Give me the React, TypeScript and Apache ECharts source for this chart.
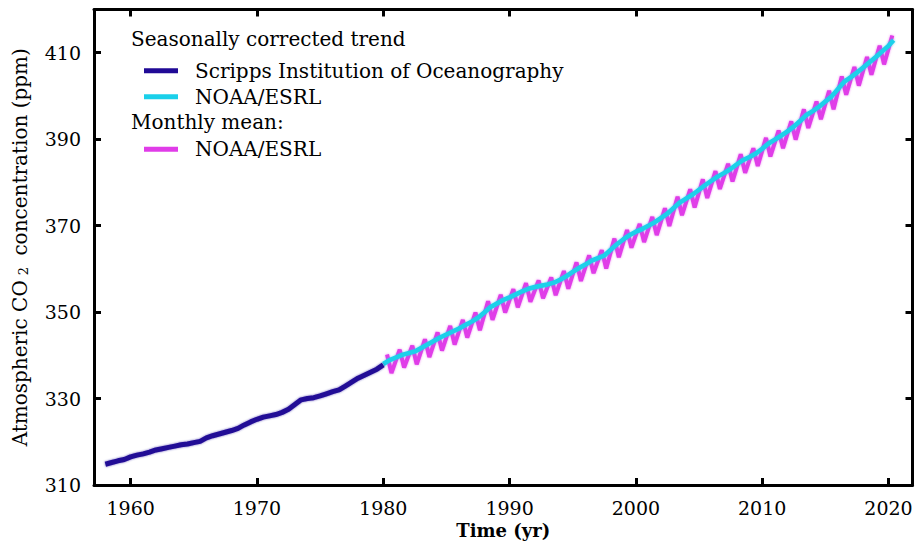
import React, { useEffect, useRef } from 'react';
import * as echarts from 'echarts';

const FONT = '"DejaVu Serif", "Liberation Serif", serif';

const xTicks = [1960, 1970, 1980, 1990, 2000, 2010, 2020];
const yTicks = [310, 330, 350, 370, 390, 410];

// Seasonally corrected trend – Scripps Institution of Oceanography
const scrippsYears = [
  1958.0, 1958.5, 1959.0, 1959.5, 1960.0, 1960.5, 1961.0, 1961.5, 1962.0, 1962.5,
  1963.0, 1963.5, 1964.0, 1964.5, 1965.0, 1965.5, 1966.0, 1966.5, 1967.0, 1967.5,
  1968.0, 1968.5, 1969.0, 1969.5, 1970.0, 1970.5, 1971.0, 1971.5, 1972.0, 1972.5,
  1973.0, 1973.5, 1974.0, 1974.5, 1975.0, 1975.5, 1976.0, 1976.5, 1977.0, 1977.5,
  1978.0, 1978.5, 1979.0, 1979.5, 1980.0,
];
const scrippsTrend = [
  314.8, 315.2, 315.6, 315.9, 316.5, 316.9, 317.2, 317.6, 318.1, 318.4,
  318.7, 319.0, 319.3, 319.5, 319.8, 320.1, 320.9, 321.4, 321.8, 322.2,
  322.6, 323.1, 323.9, 324.6, 325.2, 325.7, 326.0, 326.3, 326.8, 327.5,
  328.6, 329.7, 330.0, 330.2, 330.6, 331.1, 331.6, 332.0, 332.9, 333.8,
  334.7, 335.4, 336.1, 336.8, 337.8,
];

// Seasonally corrected trend – NOAA/ESRL
const noaaYears = [
  1980.0, 1980.5, 1981.0, 1981.5, 1982.0, 1982.5, 1983.0, 1983.5, 1984.0, 1984.5,
  1985.0, 1985.5, 1986.0, 1986.5, 1987.0, 1987.5, 1988.0, 1988.5, 1989.0, 1989.5,
  1990.0, 1990.5, 1991.0, 1991.5, 1992.0, 1992.5, 1993.0, 1993.5, 1994.0, 1994.5,
  1995.0, 1995.5, 1996.0, 1996.5, 1997.0, 1997.5, 1998.0, 1998.5, 1999.0, 1999.5,
  2000.0, 2000.5, 2001.0, 2001.5, 2002.0, 2002.5, 2003.0, 2003.5, 2004.0, 2004.5,
  2005.0, 2005.5, 2006.0, 2006.5, 2007.0, 2007.5, 2008.0, 2008.5, 2009.0, 2009.5,
  2010.0, 2010.5, 2011.0, 2011.5, 2012.0, 2012.5, 2013.0, 2013.5, 2014.0, 2014.5,
  2015.0, 2015.5, 2016.0, 2016.5, 2017.0, 2017.5, 2018.0, 2018.5, 2019.0, 2019.5,
  2020.0, 2020.4,
];
const noaaTrend = [
  338.0, 338.9, 339.5, 340.1, 340.5, 340.9, 341.7, 342.5, 343.3, 344.1,
  344.8, 345.5, 346.2, 347.0, 347.8, 348.7, 349.9, 351.2, 352.0, 352.8,
  353.4, 354.1, 354.8, 355.4, 355.8, 356.1, 356.4, 356.8, 357.5, 358.3,
  359.3, 360.2, 361.0, 361.9, 362.5, 363.1, 364.4, 365.7, 366.8, 367.8,
  368.6, 369.2, 370.0, 370.8, 371.8, 372.8, 374.1, 375.4, 376.3, 377.2,
  378.3, 379.4, 380.4, 381.4, 382.2, 383.1, 384.2, 385.2, 385.9, 386.7,
  387.8, 389.0, 389.9, 390.8, 391.8, 392.9, 394.2, 395.6, 396.5, 397.5,
  398.7, 399.9, 401.6, 403.3, 404.3, 405.4, 406.6, 407.8, 409.0, 410.3,
  411.6, 412.9,
];

// Monthly mean – NOAA/ESRL (seasonal maxima and minima of each year)
const monthlyYears = [
  1980, 1981, 1982, 1983, 1984, 1985, 1986, 1987, 1988, 1989,
  1990, 1991, 1992, 1993, 1994, 1995, 1996, 1997, 1998, 1999,
  2000, 2001, 2002, 2003, 2004, 2005, 2006, 2007, 2008, 2009,
  2010, 2011, 2012, 2013, 2014, 2015, 2016, 2017, 2018, 2019, 2020,
];
const monthlyPeak = [
  340.2, 341.3, 342.2, 343.7, 345.3, 346.8, 348.2, 349.9, 352.5, 354.0,
  355.3, 356.7, 357.3, 358.0, 359.5, 361.5, 363.1, 364.3, 367.0, 369.0,
  370.4, 372.0, 374.0, 376.7, 378.4, 380.7, 382.6, 384.3, 386.5, 387.9,
  390.3, 392.0, 394.1, 396.9, 398.7, 401.2, 404.5, 406.7, 409.0, 411.6, 414.0,
];
const monthlyTrough = [
  335.9, 337.2, 337.9, 339.6, 341.1, 342.5, 344.1, 345.8, 348.2, 349.9,
  351.1, 352.4, 353.2, 353.9, 355.4, 357.2, 359.0, 360.1, 362.7, 364.9,
  366.2, 367.8, 369.9, 372.4, 374.2, 376.4, 378.5, 380.2, 382.2, 383.8,
  386.0, 387.9, 389.9, 392.6, 394.6, 396.9, 400.3, 402.4, 404.9, 407.3,
];

export default function App() {
  const ref = useRef<HTMLDivElement>(null);

  useEffect(() => {
    if (!ref.current) return;
    const chart = echarts.init(ref.current, undefined, { renderer: 'svg' });

    const scrippsData = scrippsYears.map((x, i) => [x, scrippsTrend[i]]);
    const noaaData = noaaYears.map((x, i) => [x, noaaTrend[i]]);
    const monthlyData: number[][] = [];
    monthlyYears.forEach((yr, i) => {
      monthlyData.push([yr + 0.3, monthlyPeak[i]]);
      if (monthlyTrough[i] !== undefined) monthlyData.push([yr + 0.65, monthlyTrough[i]]);
    });

    const axisLine = { show: true, onZero: false, lineStyle: { color: '#000', width: 3 } };
    const labelStyle = { color: '#000', fontFamily: FONT, fontSize: 19, formatter: (v: number) => String(v) };
    const tickStyle = { color: '#000', width: 3 };

    const SCRIPPS = 'Scripps Institution of Oceanography';
    const NOAA_T = 'NOAA/ESRL trend';
    const NOAA_M = 'NOAA/ESRL monthly';

    const legendText = {
      color: '#000',
      fontFamily: FONT,
      fontSize: 20,
      lineHeight: 24,
      padding: [0, 0, 0, 12],
    };

    chart.setOption({
      animation: false,
      backgroundColor: '#fff',
      grid: { left: 94, right: 7.5, top: 9.5, bottom: 57, containLabel: false, outerBoundsMode: 'none' },
      xAxis: [
        {
          type: 'value',
          min: 1957.1,
          max: 2021.9,
          position: 'bottom',
          axisLine,
          axisTick: { show: true, inside: true, length: 7, customValues: xTicks, lineStyle: tickStyle },
          axisLabel: { show: true, customValues: xTicks, margin: 13, ...labelStyle },
          splitLine: { show: false },
          name: 'Time (yr)',
          nameLocation: 'middle',
          nameGap: 33,
          nameTextStyle: { color: '#000', fontFamily: FONT, fontSize: 18, fontWeight: 'bold' },
        },
        {
          type: 'value',
          min: 1957.1,
          max: 2021.9,
          position: 'top',
          axisLine,
          axisTick: { show: true, inside: true, length: 7, customValues: xTicks, lineStyle: tickStyle },
          axisLabel: { show: false },
          splitLine: { show: false },
        },
      ],
      yAxis: [
        {
          type: 'value',
          min: 310,
          max: 420,
          position: 'left',
          axisLine,
          axisTick: { show: true, inside: true, length: 7, customValues: yTicks, lineStyle: tickStyle },
          axisLabel: { show: true, customValues: yTicks, margin: 13, ...labelStyle },
          splitLine: { show: false },
          name: 'Atmospheric CO{sub|2} concentration (ppm)',
          nameLocation: 'middle',
          nameGap: 64,
          nameTextStyle: {
            color: '#000',
            fontFamily: FONT,
            fontSize: 20,
            rich: {
              sub: {
                color: '#000',
                fontFamily: FONT,
                fontSize: 13,
                lineHeight: 13,
                padding: [16, 5, 0, 5],
                verticalAlign: 'bottom',
              },
            },
          },
        },
        {
          type: 'value',
          min: 310,
          max: 420,
          position: 'right',
          axisLine,
          axisTick: { show: true, inside: true, length: 7, customValues: yTicks, lineStyle: tickStyle },
          axisLabel: { show: false },
          splitLine: { show: false },
        },
      ],
      legend: [
        {
          orient: 'vertical',
          left: 144,
          top: 58.7,
          padding: 0,
          itemGap: 2,
          itemWidth: 34,
          itemHeight: 5,
          icon: 'rect',
          selectedMode: false,
          data: [SCRIPPS, NOAA_T],
          formatter: (n: string) => (n === NOAA_T ? 'NOAA/ESRL' : n),
          textStyle: legendText,
        },
        {
          orient: 'vertical',
          left: 144,
          top: 137.3,
          padding: 0,
          itemWidth: 34,
          itemHeight: 5,
          icon: 'rect',
          selectedMode: false,
          data: [NOAA_M],
          formatter: () => 'NOAA/ESRL',
          textStyle: legendText,
        },
      ],
      graphic: [
        {
          type: 'text',
          left: 131,
          top: 29,
          style: { text: 'Seasonally corrected trend', fill: '#000', font: `20px ${FONT}` },
        },
        {
          type: 'text',
          left: 131,
          top: 112,
          style: { text: 'Monthly mean:', fill: '#000', font: `20px ${FONT}` },
        },
      ],
      series: [
        {
          name: NOAA_M,
          type: 'line',
          xAxisIndex: 0,
          yAxisIndex: 0,
          data: monthlyData,
          showSymbol: false,
          color: '#e03ce8',
          lineStyle: { color: '#e03ce8', width: 4, shadowBlur: 2, shadowColor: 'rgba(224,60,232,0.6)' },
          z: 2,
        },
        {
          name: NOAA_T,
          type: 'line',
          xAxisIndex: 0,
          yAxisIndex: 0,
          data: noaaData,
          showSymbol: false,
          color: '#1ad0ea',
          lineStyle: { color: '#1ad0ea', width: 4.5, shadowBlur: 2, shadowColor: 'rgba(26,208,234,0.6)' },
          z: 3,
        },
        {
          name: SCRIPPS,
          type: 'line',
          xAxisIndex: 0,
          yAxisIndex: 0,
          data: scrippsData,
          showSymbol: false,
          color: '#200a96',
          lineStyle: { color: '#200a96', width: 5, shadowBlur: 2, shadowColor: 'rgba(32,10,150,0.6)' },
          z: 4,
        },
      ],
    });

    return () => chart.dispose();
  }, []);

  return (
    <div
      ref={ref}
      style={{ position: 'fixed', left: 0, top: 0, width: 920, height: 542 }}
    />
  );
}
